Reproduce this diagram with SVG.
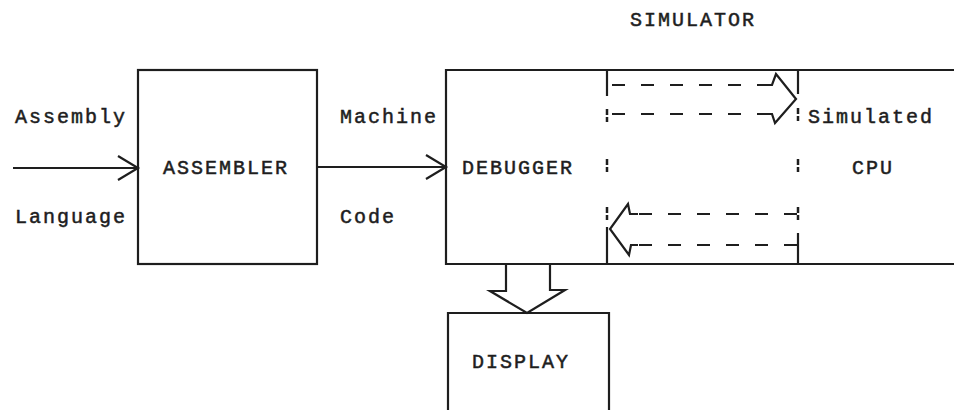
<svg xmlns="http://www.w3.org/2000/svg" width="954" height="410" viewBox="0 0 954 410">
<style>
.ln{fill:none;stroke:#1e1e1e;stroke-width:2.2;stroke-linejoin:miter}
.ds{fill:none;stroke:#1e1e1e;stroke-width:2.2;stroke-dasharray:13 16}
.col{fill:none;stroke:#1e1e1e;stroke-width:2.5;stroke-dasharray:6 2 5 100}
text{font-family:"Liberation Mono","Courier New",monospace;font-size:20px;letter-spacing:2px;fill:#1e1e1e;stroke:#1e1e1e;stroke-width:0.5}
</style>
<rect width="954" height="410" fill="#ffffff"/>
<text x="630" y="26">SIMULATOR</text>
<text x="15" y="123">Assembly</text>
<text x="15" y="223">Language</text>
<g id="assembler">
<rect class="ln" x="138" y="70" width="179" height="194"/>
<text x="163" y="174">ASSEMBLER</text>
</g>
<g id="machine-code-label">
<text x="340" y="123">Machine</text>
<text x="340" y="223">Code</text>
</g>
<g id="simulator">
<path class="ln" d="M960,70 H446 V264 H960"/>
<text x="462" y="174">DEBUGGER</text>
<text x="808" y="123">Simulated</text>
<text x="852" y="174">CPU</text>
<path class="ln" d="M607,70 V96 M607,227 V264 M798,70 V94 M798,233 V264"/>
<path class="col" d="M607,109 V122 M607,159 V172 M607,207 V220 M798,108 V121 M798,159 V172 M798,207 V220"/>
</g>
<g id="display">
<path class="ln" d="M448,420 V313 H609 V420"/>
<text x="472" y="368">DISPLAY</text>
</g>
<g id="connectors">
<path class="ln" d="M13,168 H138 M118,156 L138,168 L118,180"/>
<path class="ln" d="M317,167 H446 M426,155 L446,167 L426,179"/>
<path class="ds" d="M612,85 H772"/>
<path class="ds" d="M612,114 H772"/>
<path class="ln" d="M764,85 H772 L776,74 L796,99 L775,123 L772,114 H764"/>
<path class="ds" d="M797,214 H632"/>
<path class="ds" d="M797,245 H632"/>
<path class="ln" d="M638,214 H630 L628,204 L610,229 L629,255 L631,245 H638"/>
<path class="ln" d="M506,264 V291 H490 L527,313 L565,290 H550 V264"/>
</g>
</svg>
